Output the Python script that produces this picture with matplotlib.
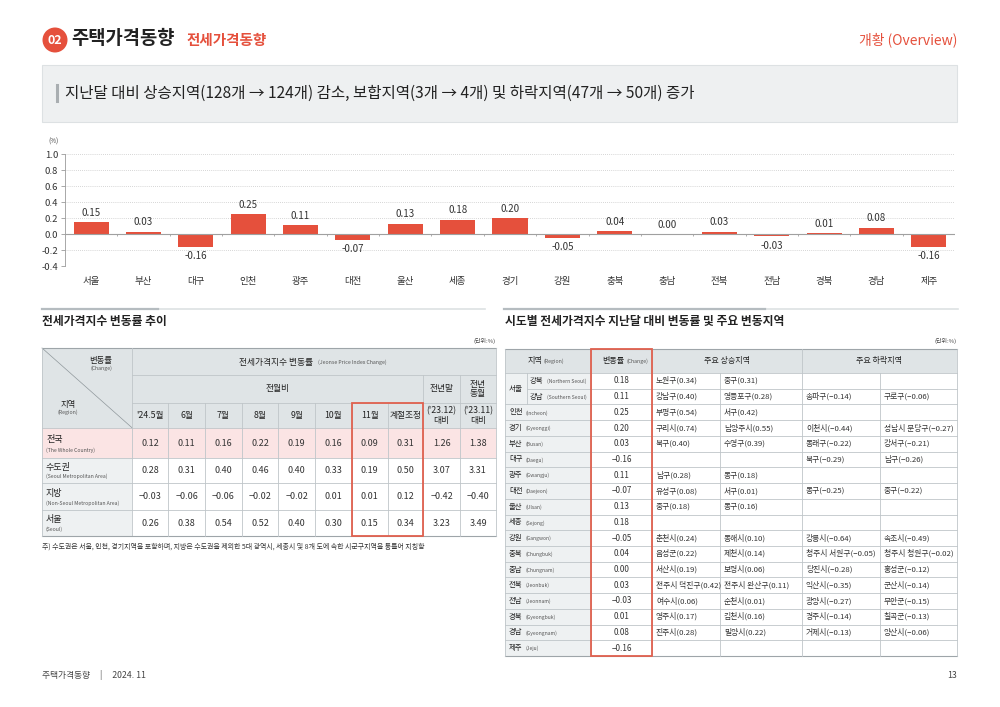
import matplotlib
matplotlib.use("Agg")
import matplotlib.pyplot as plt
from matplotlib.patches import Rectangle, Ellipse
from matplotlib.lines import Line2D

plt.rcParams['font.family'] = ['Noto Sans CJK KR', 'DejaVu Sans']
plt.rcParams['axes.unicode_minus'] = False

# ---------------- data ----------------
bar_regions = ['서울', '부산', '대구', '인천', '광주', '대전', '울산', '세종', '경기',
               '강원', '충북', '충남', '전북', '전남', '경북', '경남', '제주']
bar_values = [0.15, 0.03, -0.16, 0.25, 0.11, -0.07, 0.13, 0.18, 0.20,
              -0.05, 0.04, 0.00, 0.03, -0.03, 0.01, 0.08, -0.16]
yticks = [-0.4, -0.2, 0.0, 0.2, 0.4, 0.6, 0.8, 1.0]

trend_rows = ['전국', '수도권', '지방', '서울']
trend_rows_en = ['(The Whole Country)', '(Seoul Metropolitan Area)',
                 '(Non-Seoul Metropolitan Area)', '(Seoul)']
trend_cols = ["'24.5월", '6월', '7월', '8월', '9월', '10월', '11월', '계절조정',
              "('23.12)\n대비", "('23.11)\n대비"]
trend_values = [
    ['0.12', '0.11', '0.16', '0.22', '0.19', '0.16', '0.09', '0.31', '1.26', '1.38'],
    ['0.28', '0.31', '0.40', '0.46', '0.40', '0.33', '0.19', '0.50', '3.07', '3.31'],
    ['−0.03', '−0.06', '−0.06', '−0.02', '−0.02', '0.01', '0.01', '0.12', '−0.42', '−0.40'],
    ['0.26', '0.38', '0.54', '0.52', '0.40', '0.30', '0.15', '0.34', '3.23', '3.49'],
]

reg_names = ['강북', '강남', '인천', '경기', '부산', '대구', '광주', '대전', '울산', '세종',
             '강원', '충북', '충남', '전북', '전남', '경북', '경남', '제주']
reg_names_en = ['(Northern Seoul)', '(Southern Seoul)', '(Incheon)', '(Gyeonggi)', '(Busan)',
                '(Daegu)', '(Gwangju)', '(Daejeon)', '(Ulsan)', '(Sejong)', '(Gangwon)',
                '(Chungbuk)', '(Chungnam)', '(Jeonbuk)', '(Jeonnam)', '(Gyeongbuk)',
                '(Gyeongnam)', '(Jeju)']
reg_change = ['0.18', '0.11', '0.25', '0.20', '0.03', '−0.16', '0.11', '−0.07', '0.13', '0.18',
              '−0.05', '0.04', '0.00', '0.03', '−0.03', '0.01', '0.08', '−0.16']
reg_up1 = ['노원구(0.34)', '강남구(0.40)', '부평구(0.54)', '구리시(0.74)', '북구(0.40)', '',
           '남구(0.28)', '유성구(0.08)', '중구(0.18)', '', '춘천시(0.24)', '음성군(0.22)',
           '서산시(0.19)', '전주시 덕진구(0.42)', '여수시(0.06)', '영주시(0.17)', '진주시(0.28)', '']
reg_up2 = ['중구(0.31)', '영등포구(0.28)', '서구(0.42)', '남양주시(0.55)', '수영구(0.39)', '',
           '동구(0.18)', '서구(0.01)', '동구(0.16)', '', '동해시(0.10)', '제천시(0.14)',
           '보령시(0.06)', '전주시 완산구(0.11)', '순천시(0.01)', '김천시(0.16)', '밀양시(0.22)', '']
reg_down1 = ['', '송파구(−0.14)', '', '이천시(−0.44)', '동래구(−0.22)', '북구(−0.29)', '',
             '동구(−0.25)', '', '', '강릉시(−0.64)', '청주시 서원구(−0.05)', '당진시(−0.28)',
             '익산시(−0.35)', '광양시(−0.27)', '경주시(−0.14)', '거제시(−0.13)', '']
reg_down2 = ['', '구로구(−0.06)', '', '성남시 분당구(−0.27)', '강서구(−0.21)', '남구(−0.26)', '',
             '중구(−0.22)', '', '', '속초시(−0.49)', '청주시 청원구(−0.02)', '홍성군(−0.12)',
             '군산시(−0.14)', '무안군(−0.15)', '칠곡군(−0.13)', '양산시(−0.06)', '']

# ---------------- helpers ----------------
W, H = 1000, 707
fig = plt.figure(figsize=(W / 100, H / 100), dpi=100)
fig.patch.set_facecolor('white')

RED = '#e5503c'
GRID = '#bfc5c9'
HEAD = '#dfe4e6'
SIDE = '#eef1f2'
DARK = '#222222'


def T(x, y, s, size=7, color=DARK, ha='left', va='center', weight='normal', **kw):
    fig.text(x / W, 1 - y / H, s, fontsize=size, color=color, ha=ha, va=va,
             fontweight=weight, **kw)


def R(x0, y0, x1, y1, fc='none', ec='none', lw=0.6, z=1):
    fig.add_artist(Rectangle((x0 / W, 1 - y1 / H), (x1 - x0) / W, (y1 - y0) / H,
                             transform=fig.transFigure, facecolor=fc, edgecolor=ec,
                             linewidth=lw, zorder=z))


def L(x0, y0, x1, y1, color=GRID, lw=0.6, z=3):
    fig.add_artist(Line2D([x0 / W, x1 / W], [1 - y0 / H, 1 - y1 / H],
                          transform=fig.transFigure, color=color, linewidth=lw, zorder=z))


# ---------------- header ----------------
fig.add_artist(Ellipse((55 / W, 1 - 40 / H), 25 / W, 25 / H, transform=fig.transFigure,
                       facecolor=RED, edgecolor='none'))
T(55, 40, '02', size=9, color='white', ha='center', weight='bold')
T(71, 39, '주택가격동향', size=13.5, weight='bold')
T(187, 40, '전세가격동향', size=10.5, color=RED, weight='bold')
T(957, 40, '개황 (Overview)', size=10, color=RED, ha='right')

R(42, 65, 957, 122, fc='#eef0f1', ec='#dde1e3', lw=0.8)
L(57, 85, 57, 101, color='#a9aeb1', lw=2.2)
T(65, 93, '지난달 대비 상승지역(128개 → 124개) 감소, 보합지역(3개 → 4개) 및 하락지역(47개 → 50개) 증가',
  size=11.2, weight='medium')

# ---------------- bar chart ----------------
ax = fig.add_axes([65 / W, 1 - 266 / H, 890 / W, 112 / H])
xs = list(range(len(bar_regions)))
ax.bar(xs, bar_values, width=0.67, color=RED, zorder=3)
ax.set_xlim(-0.5, len(bar_regions) - 0.5)
ax.set_ylim(yticks[0], yticks[-1])
ax.set_yticks(yticks)
ax.set_yticklabels([f'{v:.1f}' for v in yticks], fontsize=6.8, color='#333333')
ax.set_xticks(xs)
ax.set_xticklabels(bar_regions, fontsize=6.8, color='#333333')
ax.tick_params(axis='x', length=0, pad=8)
ax.tick_params(axis='y', length=3, width=0.6, color='#9a9a9a', pad=2)
for s in ['top', 'right', 'bottom']:
    ax.spines[s].set_visible(False)
ax.spines['left'].set_color('#9a9a9a')
ax.spines['left'].set_linewidth(0.6)
for v in yticks:
    if v != 0:
        ax.axhline(v, color='#c8c8c8', lw=0.6, ls=(0, (1, 1.5)), zorder=1)
ax.axhline(0, color='#a0a0a0', lw=0.8, zorder=4)
ax.vlines([i + 0.5 for i in xs], -0.02, 0, color='#a0a0a0', lw=0.6, zorder=4)
for x, v in zip(xs, bar_values):
    if v >= 0:
        ax.annotate(f'{v:.2f}', (x, v), xytext=(0, 3), textcoords='offset points',
                    ha='center', va='bottom', fontsize=7, color='#333333')
    else:
        ax.annotate(f'{v:.2f}', (x, v), xytext=(0, -3), textcoords='offset points',
                    ha='center', va='top', fontsize=7, color='#333333')
T(48, 142, '(%)', size=4.5, color='#444444')

# ---------------- section titles ----------------
L(42, 309, 485, 309, color='#dde1e3', lw=1.2)
L(42, 309, 158, 309, color='#b5bcc0', lw=1.6)
L(504, 309, 958, 309, color='#dde1e3', lw=1.2)
L(504, 309, 765, 309, color='#b5bcc0', lw=1.6)
T(42, 322, '전세가격지수 변동률 추이', size=8.5, weight='bold')
T(505, 322, '시도별 전세가격지수 지난달 대비 변동률 및 주요 변동지역', size=8.5, weight='bold')
T(496, 341, '(단위:%)', size=4.3, color='#444444', ha='right')
T(957, 341, '(단위:%)', size=4.3, color='#444444', ha='right')

# ---------------- left table ----------------
cx = [42, 132.3, 168.3, 205, 241.7, 278.3, 315, 351.7, 387.7, 423.3, 460, 496]
ry = [428, 458, 483, 510, 536]

R(42, 348, 496, 428, fc=HEAD)
R(42, ry[0], 496, ry[1], fc='#fbe4e4')
for i in range(1, 4):
    R(42, ry[i], cx[1], ry[i + 1], fc=SIDE)
L(42, 348, 496, 348, color='#9ea5a9', lw=0.8)
L(cx[1], 375, 496, 375)
L(cx[1], 403, 496, 403)
L(42, 428, 496, 428)
L(42, 348, cx[1], 428, color='#8f979b', lw=0.5)
L(cx[1], 348, cx[1], 536)
L(cx[9], 375, cx[9], 428)
L(cx[10], 375, cx[10], 428)
for c in cx[2:9]:
    L(c, 403, c, 428)
for r in ry[1:4]:
    L(42, r, 496, r)
L(42, ry[4], 496, ry[4], color='#9ea5a9', lw=0.8)
for c in cx[2:11]:
    L(c, ry[0], c, ry[4])
L(42, 348, 42, 536)
L(496, 348, 496, 536)

T(101, 361, '변동률', size=6, ha='center')
T(101, 368.5, '(Change)', size=3.8, ha='center', color='#555555')
T(68, 405, '지역', size=6, ha='center')
T(68, 412, '(Region)', size=3.8, ha='center', color='#555555')
T(276, 362, '전세가격지수 변동률', size=6.3, ha='center')
T(318, 362.5, '(Jeonse Price Index Change)', size=3.8, ha='left', color='#555555')
T((cx[1] + cx[9]) / 2, 389, '전월비', size=6.3, ha='center')
T((cx[9] + cx[10]) / 2, 389, '전년말', size=6.3, ha='center')
T((cx[10] + cx[11]) / 2, 389, '전년\n동월', size=6.3, ha='center', linespacing=1.1)
for j, lab in enumerate(trend_cols):
    T((cx[j + 1] + cx[j + 2]) / 2, 415.5, lab, size=6.3, ha='center', linespacing=1.1)
for i, name in enumerate(trend_rows):
    top, bot = ry[i], ry[i + 1]
    T(46, top + (bot - top) * 0.38, name, size=6.5)
    T(46, top + (bot - top) * 0.75, trend_rows_en[i], size=3.7, color='#555555')
    for j, val in enumerate(trend_values[i]):
        T((cx[j + 1] + cx[j + 2]) / 2, (top + bot) / 2, val, size=6.5, ha='center', color='#333333')
R(cx[7], 403, cx[9], 536, ec='#e0604e', lw=1.3, z=5)
T(42, 547, '주) 수도권은 서울, 인천, 경기지역을 포함하며, 지방은 수도권을 제외한 5대 광역시, 세종시 및 8개 도에 속한 시군구지역을 통틀어 지칭함',
  size=5.0, color='#333333')

# ---------------- right table ----------------
rx = [505, 527, 591, 652, 720, 802, 880, 957]
top_h, bot_h = 349, 373
n = len(reg_names)
rh = (656 - bot_h) / n
rows_y = [bot_h + i * rh for i in range(n + 1)]

R(rx[0], top_h, rx[7], bot_h, fc=HEAD)
R(rx[0], bot_h, rx[2], 656, fc=SIDE)
L(rx[0], top_h, rx[7], top_h, color='#9ea5a9', lw=0.8)
L(rx[0], 656, rx[7], 656, color='#9ea5a9', lw=0.8)
L(rx[0], bot_h, rx[7], bot_h)
for i in range(1, n):
    x0 = rx[1] if i == 1 else rx[0]
    L(x0, rows_y[i], rx[7], rows_y[i])
L(rx[0], top_h, rx[0], 656)
L(rx[7], top_h, rx[7], 656)
L(rx[1], bot_h, rx[1], rows_y[2])
for c in [rx[2], rx[3], rx[5]]:
    L(c, top_h, c, 656)
for c in [rx[4], rx[6]]:
    L(c, bot_h, c, 656)

T((rx[0] + rx[2]) / 2 - 6, 361, '지역', size=5.8, ha='right')
T((rx[0] + rx[2]) / 2 - 4, 361.5, '(Region)', size=3.8, color='#555555')
T((rx[2] + rx[3]) / 2 + 3, 361, '변동률', size=5.8, ha='right')
T((rx[2] + rx[3]) / 2 + 5, 361.5, '(Change)', size=3.8, color='#555555')
T((rx[3] + rx[5]) / 2, 361, '주요 상승지역', size=5.8, ha='center')
T((rx[5] + rx[7]) / 2, 361, '주요 하락지역', size=5.8, ha='center')
T((rx[0] + rx[1]) / 2, rows_y[1], '서울', size=5.5, ha='center')

for i in range(n):
    yc = (rows_y[i] + rows_y[i + 1]) / 2
    x0 = rx[1] + 3 if i < 2 else rx[0] + 4
    T(x0, yc, reg_names[i], size=5.3)
    T(x0 + 17, yc + 0.5, reg_names_en[i], size=3.6, color='#555555')
    T((rx[2] + rx[3]) / 2, yc, reg_change[i], size=5.8, ha='center', color='#333333')
    T(rx[3] + 4, yc, reg_up1[i], size=5.6, color='#333333')
    T(rx[4] + 4, yc, reg_up2[i], size=5.6, color='#333333')
    T(rx[5] + 4, yc, reg_down1[i], size=5.6, color='#333333')
    T(rx[6] + 4, yc, reg_down2[i], size=5.6, color='#333333')
R(rx[2], top_h, rx[3], 656, ec='#e0604e', lw=1.3, z=5)

# ---------------- footer ----------------
T(42, 675, '주택가격동향     |     2024. 11', size=6.3, color='#444444')
T(957, 675, '13', size=6.3, color='#444444', ha='right')

fig.savefig('out.png', dpi=100, facecolor='white')
